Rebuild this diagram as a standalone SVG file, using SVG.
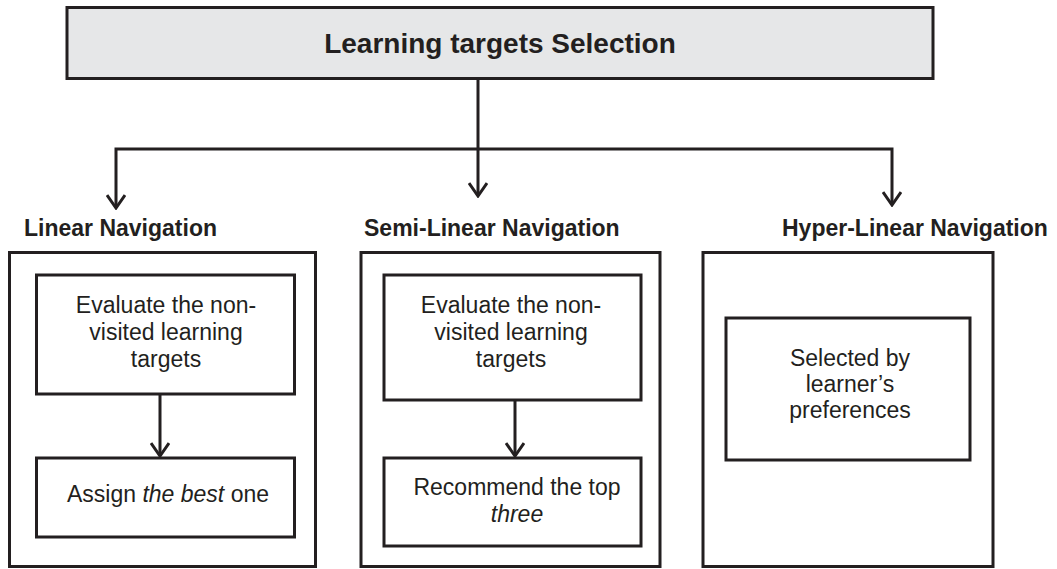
<svg xmlns="http://www.w3.org/2000/svg" width="1057" height="569" viewBox="0 0 1057 569">
  <defs>
    <!-- open V arrowhead, drawn along +x so orient="auto" points it down the line -->
    <marker id="vee" viewBox="0 0 16 20" refX="14" refY="10" markerWidth="16" markerHeight="20" markerUnits="userSpaceOnUse" orient="auto">
      <path d="M1,1 L14,10 L1,19" fill="none" stroke="#231f20" stroke-width="3"/>
    </marker>
  </defs>
  <style>
    .box { fill: #ffffff; stroke: #231f20; stroke-width: 3; }
    .head { fill: #e6e7e8; stroke: #231f20; stroke-width: 3; }
    .wire { fill: none; stroke: #231f20; stroke-width: 3; }
    .title { font-family: "Liberation Sans", Arial, sans-serif; font-weight: bold; font-size: 28px; fill: #231f20; }
    .label { font-family: "Liberation Sans", Arial, sans-serif; font-weight: bold; font-size: 23px; fill: #231f20; }
    .txt { font-family: "Liberation Sans", Arial, sans-serif; font-size: 23px; fill: #231f20; text-anchor: middle; }
    .em { font-style: italic; }
  </style>
  <rect width="1057" height="569" fill="#ffffff"/>

  <!-- top node -->
  <g id="selection">
    <rect class="head" x="67" y="7.5" width="866" height="71"/>
    <text class="title" x="500" y="53" text-anchor="middle">Learning targets Selection</text>
  </g>

  <!-- Linear navigation -->
  <g id="linear">
    <text class="label" x="24" y="236">Linear Navigation</text>
    <rect class="box" x="9.5" y="252.5" width="306" height="314"/>
  </g>
  <g id="linear-evaluate">
    <rect class="box" x="36.5" y="275" width="258" height="119"/>
    <text class="txt" x="166" y="313">Evaluate the non-</text>
    <text class="txt" x="166" y="340">visited learning</text>
    <text class="txt" x="166" y="367">targets</text>
  </g>
  <g id="linear-assign">
    <rect class="box" x="36.5" y="458" width="258" height="79"/>
    <text class="txt" x="168" y="502">Assign <tspan class="em">the best</tspan> one</text>
  </g>

  <!-- Semi-linear navigation -->
  <g id="semi">
    <text class="label" x="364" y="236">Semi-Linear Navigation</text>
    <rect class="box" x="361" y="252.5" width="299" height="314"/>
  </g>
  <g id="semi-evaluate">
    <rect class="box" x="384" y="275" width="257" height="125"/>
    <text class="txt" x="511" y="313">Evaluate the non-</text>
    <text class="txt" x="511" y="340">visited learning</text>
    <text class="txt" x="511" y="367">targets</text>
  </g>
  <g id="semi-recommend">
    <rect class="box" x="384" y="458" width="257" height="88"/>
    <text class="txt" x="517" y="495">Recommend the top</text>
    <text class="txt em" x="517" y="522">three</text>
  </g>

  <!-- Hyper-linear navigation -->
  <g id="hyper">
    <text class="label" x="782" y="236">Hyper-Linear Navigation</text>
    <rect class="box" x="703" y="252.5" width="290" height="314"/>
  </g>
  <g id="hyper-selected">
    <rect class="box" x="726" y="318" width="244" height="142"/>
    <text class="txt" x="850" y="366">Selected by</text>
    <text class="txt" x="850" y="392">learner’s</text>
    <text class="txt" x="850" y="418">preferences</text>
  </g>

  <!-- connectors -->
  <g id="connectors">
    <path class="wire" d="M478,78 V196" marker-end="url(#vee)"/>
    <path class="wire" d="M478,149 H116 V208" marker-end="url(#vee)"/>
    <path class="wire" d="M478,149 H892 V205" marker-end="url(#vee)"/>
    <path class="wire" d="M160,394 V456" marker-end="url(#vee)"/>
    <path class="wire" d="M515,400 V456" marker-end="url(#vee)"/>
  </g>
</svg>
